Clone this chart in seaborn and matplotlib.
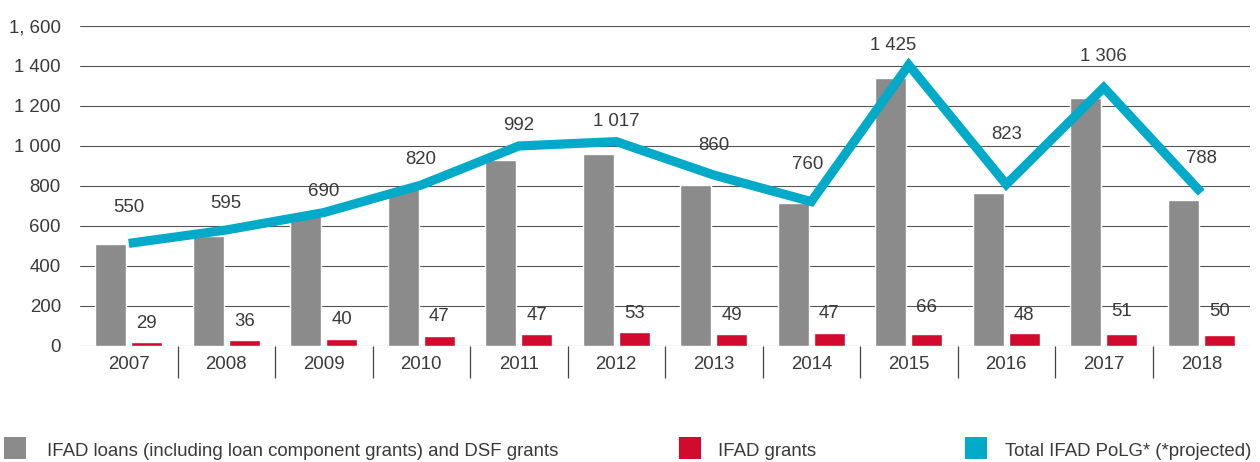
import numpy as np
import pandas as pd
import matplotlib
matplotlib.use("Agg")
import matplotlib.pyplot as plt
from matplotlib.patches import Rectangle
import seaborn as sns

# data
years = ['2007', '2008', '2009', '2010', '2011', '2012',
         '2013', '2014', '2015', '2016', '2017', '2018']
loans = [510, 550, 650, 790, 930, 960, 805, 717, 1338, 763, 1238, 730]
grants = [20, 30, 35, 52, 60, 70, 60, 65, 60, 65, 60, 55]
total = [513, 580, 667, 805, 1000, 1022, 855, 722, 1405, 808, 1292, 767]
total_labels = ['550', '595', '690', '820', '992', '1 017',
                '860', '760', '1 425', '823', '1 306', '788']
grant_labels = ['29', '36', '40', '47', '47', '53',
                '49', '47', '66', '48', '51', '50']
ytick_labels = ['0', '200', '400', '600', '800', '1 000', '1 200', '1 400', '1, 600']

# label nudges in pixels (dx, dy) so the numbers sit like in the original
total_nudge = [(0, 36), (0, 26), (0, 21), (0, 25), (0, 20), (0, 20),
               (0, 29), (-4, 37), (-16, 20), (0, 50), (0, 31), (0, 34)]
grant_nudge = [19, 18, 20, 19, 19, 19, 18, 19, 27, 18, 23, 24]

grey = '#8a8b8a'
red = '#d20a2e'
cyan = '#00aac8'
txt = '#3a3a3a'
fs = 13.4

sns.set_style('white')
plt.rcParams['font.family'] = ['Liberation Sans', 'DejaVu Sans']
plt.rcParams['font.size'] = fs

fig = plt.figure(figsize=(12.6, 4.62), dpi=100)
ax = fig.add_axes([80 / 1260, 116 / 462, 1170 / 1260, 320 / 462])

df = pd.DataFrame({
    'year': years * 2,
    'value': loans + grants,
    'series': ['loans'] * len(years) + ['grants'] * len(years),
})
sns.barplot(data=df, x='year', y='value', hue='series', palette=[grey, red],
            width=0.74, gap=0.135, saturation=1, errorbar=None, legend=False, ax=ax)

x = np.arange(len(years))
sns.lineplot(x=x, y=total, color=cyan, linewidth=6.6, ax=ax,
             solid_joinstyle='miter', solid_capstyle='butt', zorder=4)

# value labels
for i, lab in enumerate(total_labels):
    ax.annotate(lab, (x[i], total[i]), xytext=total_nudge[i], textcoords='offset pixels',
                ha='center', va='center', color=txt, fontsize=fs)
grant_x = x + 0.185
for i, lab in enumerate(grant_labels):
    ax.annotate(lab, (grant_x[i], grants[i]), xytext=(0, grant_nudge[i]),
                textcoords='offset pixels', ha='center', va='center', color=txt, fontsize=fs)

ax.set_xlim(-0.5, len(years) - 0.5)
ax.set_ylim(0, 1600)
ax.set_yticks(range(0, 1601, 200))
ax.set_yticklabels(ytick_labels)
ax.set_axisbelow(True)
ax.yaxis.grid(True, color='#555555', linewidth=0.8)
ax.xaxis.grid(False)
ax.tick_params(axis='y', length=0, pad=13.7, labelcolor=txt, labelsize=fs)
ax.tick_params(axis='x', length=0, pad=7.5, labelcolor=txt, labelsize=fs)
ax.set_xlabel('')
ax.set_ylabel('')
for s in ax.spines.values():
    s.set_visible(False)

# separators between the years under the axis
ax.vlines(x[:-1] + 0.5, -0.1, 0, transform=ax.get_xaxis_transform(),
          colors='#444444', linewidth=0.9, clip_on=False)

# legend drawn by hand along the bottom
legend_items = [
    (4, 47, grey, 'IFAD loans (including loan component grants) and DSF grants'),
    (679, 718, red, 'IFAD grants'),
    (965, 1005, cyan, 'Total IFAD PoLG* (*projected)'),
]
for px, tx, col, lab in legend_items:
    fig.add_artist(Rectangle((px / 1260, 3 / 462), 22 / 1260, 22 / 462,
                             transform=fig.transFigure, color=col, linewidth=0))
    fig.text(tx / 1260, 10 / 462, lab, ha='left', va='center', color=txt, fontsize=fs)

fig.savefig('out.png', dpi=100)
